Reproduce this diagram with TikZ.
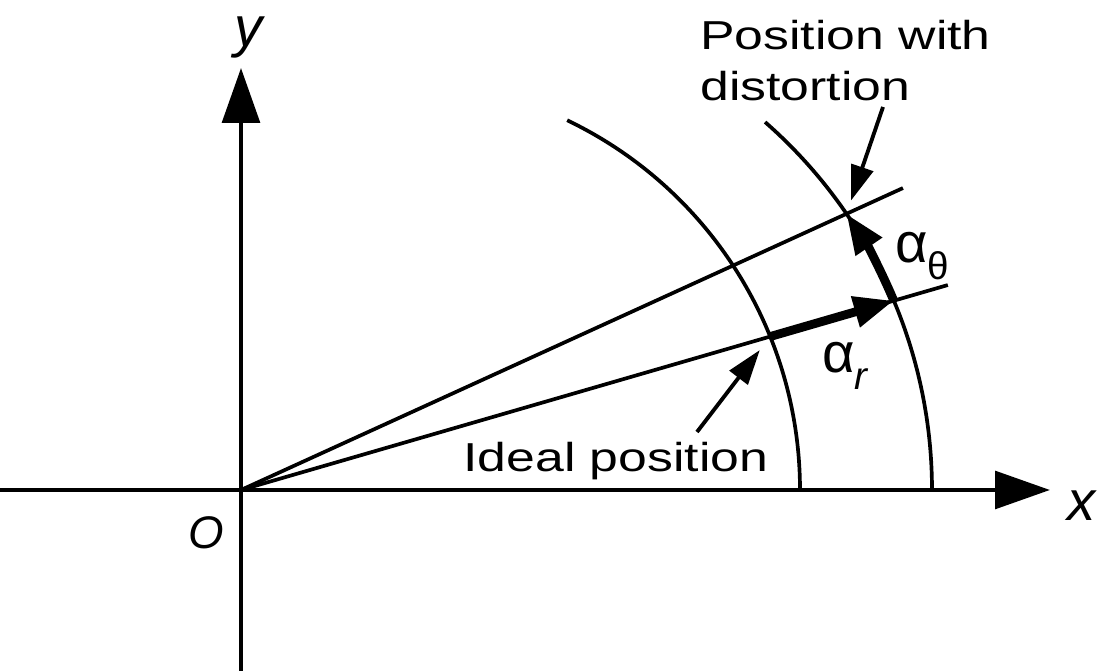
\documentclass[tikz,border=0pt]{standalone}
\usepackage{fontspec}
\setmainfont{Liberation Sans}
\newfontfamily\lblfont[FakeStretch=1.28]{Liberation Sans}
\usetikzlibrary{arrows.meta}

\begin{document}
\begin{tikzpicture}[x=0.02cm,y=0.02cm,
  axis/.style={line width=2.6pt,-{Triangle[length=1.1cm,width=0.75cm]}},
  thinline/.style={line width=2.1pt},
  bigarrow/.style={line width=5pt,-{Triangle[length=0.8cm,width=0.6cm]}},
  pointer/.style={line width=2.2pt,-{Triangle[length=0.7cm,width=0.45cm]}},
  lbl/.style={inner sep=0pt,font=\lblfont\fontsize{23}{29}\selectfont,align=left},
  sym/.style={inner sep=0pt,font=\itshape\fontsize{32}{36}\selectfont},
  greek/.style={inner sep=0pt,font=\fontsize{32}{36}\selectfont}]
  \useasboundingbox (-241,-181) rectangle (876,490);
  \coordinate (O) at (0,0);
  \coordinate (xend) at (809,0);
  \coordinate (xstart) at (-241,0);
  \coordinate (yend) at (0,422);
  \coordinate (ystart) at (0,-181);
  \coordinate (ideal) at (16.17:551);
  \coordinate (radial) at (16.17:679.7);
  \coordinate (dist) at (24.52:665.6);
  \coordinate (lowend) at (16.17:736);
  \coordinate (upend) at (24.52:727.6);
  \coordinate (distTail) at (642,383);
  \coordinate (idealTail) at (456,58);
  % axes
  \draw[axis] (xstart) -- (xend);
  \draw[axis] (ystart) -- (yend);
  % circles of equal radius
  \draw[thinline] (559,0) arc[start angle=0,end angle=64.4,radius=410];
  \draw[thinline] (691,0) arc[start angle=0,end angle=48.8,radius=489];
  % rays
  \draw[thinline] (O) -- (lowend);
  \draw[thinline] (O) -- (upend);
  % displacement
  \draw[bigarrow] (ideal) -- (radial);
  \draw[bigarrow] (radial) arc[start angle=22.78,end angle=34.4,radius=489];
  \draw[pointer,shorten >=0.28cm] (distTail) -- (dist);
  \draw[pointer,shorten >=0.34cm] (idealTail) -- (ideal);
  % labels
  \node[sym,anchor=center] (ylbl) at (8,453) {y};
  \node[sym,anchor=center] (xlbl) at (841,-16) {x};
  \node[sym,anchor=center,font=\itshape\fontsize{26}{30}\selectfont] (olbl) at (-35,-43) {O};
  \node[lbl,anchor=base west] (ideallbl) at (222,18) {Ideal position};
  \node[lbl,anchor=north west] (distlbl) at (459,470) {Position with\\distortion};
  \node[greek,anchor=base west] (ar) at (581,117) {α\raisebox{-0.3em}{\fontsize{22}{24}\selectfont\itshape r}};
  \node[greek,anchor=base west] (at) at (654,227) {α\raisebox{-0.3em}{\fontsize{22}{24}\selectfont θ}};
\end{tikzpicture}
\end{document}
